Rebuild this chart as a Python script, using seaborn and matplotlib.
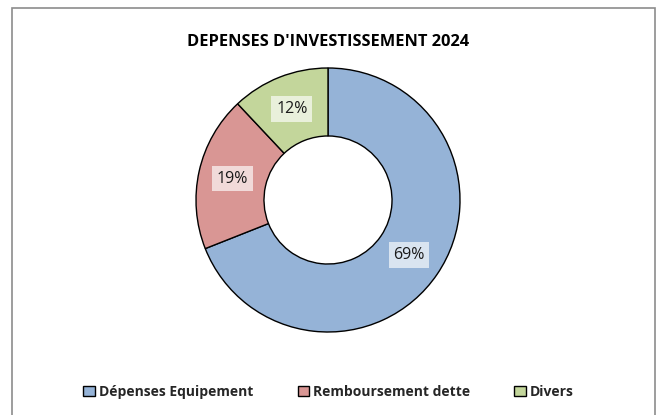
import matplotlib
matplotlib.use("Agg")
import matplotlib.pyplot as plt
from matplotlib.patches import Rectangle
import seaborn as sns

categories = ["Dépenses Equipement", "Remboursement dette", "Divers"]
values = [69, 19, 12]
colors = ["#95B3D7", "#D99694", "#C3D69B"]
title = "DEPENSES D'INVESTISSEMENT 2024"

sns.set_theme(style="white")
plt.rcParams['font.family'] = ['Open Sans', 'DejaVu Sans']

W, H = 661, 415
fig = plt.figure(figsize=(W / 100, H / 100), dpi=100)
fig.patch.set_facecolor("white")

# border
fig.patches.append(Rectangle((12 / W, -0.05), (655 - 12) / W, 1.05 - 8 / H,
                             transform=fig.transFigure, fill=False,
                             edgecolor="#8c8c8c", linewidth=1.2))

cx, cy, r = 328, 200, 132
ax = fig.add_axes([(cx - r) / W, (H - cy - r) / H, 2 * r / W, 2 * r / H])
wedges, texts, autotexts = ax.pie(
    values, colors=colors, startangle=90, counterclock=False,
    radius=1.0, autopct="%d%%", pctdistance=0.742,
    wedgeprops=dict(width=0.515, edgecolor="black", linewidth=1.0),
    textprops=dict(fontsize=11.5, color="#1a1a1a"))
for t in autotexts:
    t.set_bbox(dict(facecolor="white", alpha=0.65, edgecolor="none", pad=3.5))
ax.set_xlim(-1, 1)
ax.set_ylim(-1, 1)
ax.set_aspect("equal")
ax.axis("off")

fig.text(cx / W, 1 - 42 / H, title, ha="center", va="center",
         fontsize=11.8, fontweight="bold", color="black")

leg = fig.legend(wedges, categories, loc="center", bbox_to_anchor=(0.497, 1 - 392 / H),
                 ncol=3, frameon=False, handlelength=0.8, handleheight=0.8,
                 handletextpad=0.3, columnspacing=3.2,
                 prop=dict(size=10, weight="bold"))
for h in leg.legend_handles:
    h.set_edgecolor("black")
    h.set_linewidth(1.0)

fig.savefig("out.png", dpi=100, facecolor="white")
